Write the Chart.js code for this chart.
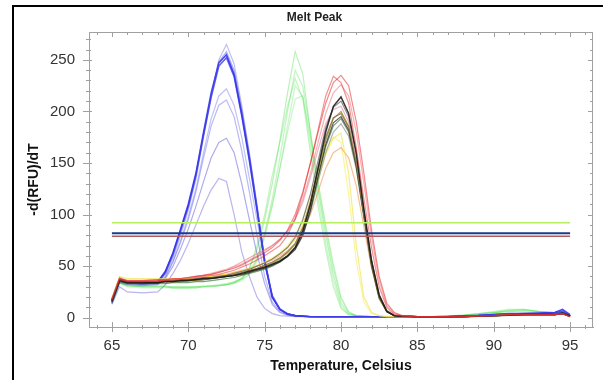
<!DOCTYPE html>
<html>
<head>
    <title>Melt Peak</title>
    <script src="https://cdn.jsdelivr.net/npm/chart.js"></script>
    <style>
        body {
            margin: 0;
            background-color: #ffffff;
            overflow: hidden;
        }
        #frame {
            position: absolute;
            left: 12px;
            top: 5px;
            width: 620px;
            height: 400px;
            border-left: 2px solid #000;
            border-top: 2px solid #000;
        }
        #wrap {
            position: absolute;
            left: 0;
            top: 0;
            width: 603px;
            height: 380px;
        }
    </style>
</head>
<body>
    <div id="frame"></div>
    <div id="wrap"><canvas id="meltChart"></canvas></div>

    <script>
        // temperature steps (Celsius) shared by every well
        const temps = [65, 65.5, 66, 67, 68, 68.5, 69, 69.5, 70, 70.5, 71, 71.5, 72, 72.5, 73, 73.5, 74, 74.5,
            75, 75.5, 76, 76.5, 77, 77.5, 78, 78.5, 79, 79.5, 80, 80.5, 81, 81.5, 82, 82.5, 83, 83.5,
            84, 85, 86, 87, 88, 89, 90, 91, 92, 93, 94, 94.5, 95];

        // -d(RFU)/dT per well, blue channel (peak ~72.5)
        const blueWells = [
            [15,36,34,33,34,42,58,80,104,134,175,215,250,265,246,206,160,110,58,22,9,4,2, 1.5,1.2,1,1,1,1,1,1,1,1,1,1,1,1, 1,1,1,1.5,2,3,4,4,4,5,7,2],
            [17,37,34,33,34,43,60,83,107,138,178,216,248,258,240,202,158,108,56,21,8,4,2, 1.5,1.2,1,1,1,1,1,1,1,1,1,1,1,1, 1,1,1.5,2,2.5,3,4,4,4,5,6,2],
            [18,38,35,34,35,45,63,86,110,140,180,218,247,255,236,198,155,106,55,20,8,3.5,2, 1.5,1,1,1,1,1,1,1,1,1,1,1,1,1, 1,1,1,1.5,2,3,3.5,4,4.5,5,8,3],
            [16,36,34,33,34,44,62,85,108,138,177,214,244,252,234,196,152,104,54,20,8,3.5,2, 1.5,1,1,1,1,1,1,1,1,1,1,1,1,1, 1,1,1,1.5,2,3,4,4,4,5,6,2],
            [14,35,33,32,33,40,55,75,98,125,160,193,215,222,206,175,135,95,52,22,9,4,2, 1.5,1.2,1,1,1,1,1,1,1,1,1,1,1,1, 1,1,1,1.5,2,3,3,3.5,4,4,5,2],
            [15,35,33,32,33,39,54,73,95,122,155,186,206,211,195,162,122,80,40,15,6,3,2, 1.5,1,1,1,1,1,1,1,1,1,1,1,1,1, 1,1,1,1.5,2,2.5,3,3.5,3.5,4,5,2],
            [14,34,32,31,32,38,50,67,86,108,132,155,170,174,160,130,95,62,33,13,5,2.5,1.5, 1.2,1,1,1,1,1,1,1,1,1,1,1,1,1, 1,1,1,1.5,2,2.5,3,3,3,4,5,2],
            [13,30,25,24,25,32,43,56,72,90,108,124,135,132,100,64,40,20,9,4,2,1.5,1, 1,1,1,1,1,1,1,1,1,1,1,1,1,1, 1,1,1,1,1.5,2,2.5,3,3,3,4,1.5]
        ];

        // green channel (peak ~77)
        const greenWells = [
            [14,34,31,30,30,30,29,29,29,29,30,30,31,32,34,38,48,66,95,130,172,218,258,236,180,124,80,42,14,4,2,1.5, 1,1,1,1,1, 1,1,1.5,2.5,4,6,8,8,6,5,5,2],
            [15,35,32,31,31,31,30,30,30,30,31,31,32,33,35,38,44,58,82,115,155,200,240,224,180,132,90,52,20,6,2,1.5, 1,1,1,1,1, 1,1,1.5,2.5,4,5,7,7,6,5,5,2],
            [14,34,31,30,30,30,30,30,30,30,30,31,31,32,34,38,48,70,100,138,170,205,232,212,160,108,66,30,9,3,2,1.5, 1,1,1,1,1, 1,1,1.5,2,3.5,5,7,8,6,5,4,2],
            [13,33,30,29,29,29,29,29,29,29,30,30,31,32,33,36,42,55,78,108,145,186,225,214,175,128,86,48,18,5,2,1.5, 1,1,1,1,1, 1,1,1.5,2,3,5,6,7,6,5,4,2],
            [14,34,31,30,30,30,29,29,29,30,30,31,31,32,34,37,42,56,80,110,145,180,212,215,168,116,72,36,11,3,2,1.5, 1,1,1,1,1, 1,1,1.5,2,3,5,6,6,5,4,4,2]
        ];

        // red / mixed channel (peak ~80)
        const redWells = [
            [18,38,36,36,37,37,38,38,39,40,41,42,44,46,48,51,55,59,63,68,75,85,100,122,150,180,208,228,235,225,190,140,85,40,14,5,2, 1,1,1,1,1.5,2,3,3,3,3,4,1],
            [17,37,35,35,36,36,37,37,38,39,40,41,42,44,46,49,52,56,60,65,70,80,96,120,150,182,215,234,228,208,165,115,68,30,10,3,1.5, 1,1,1,1,1.5,2,2.5,3,3,3,4,1],
            [18,39,36,36,36,37,37,38,39,40,41,43,45,47,50,54,58,62,66,70,76,84,96,115,140,170,198,218,226,215,180,130,78,36,12,4,2, 1,1,1,1,1.5,2,3,3,3,3,4,1],
            [16,36,34,34,34,35,35,36,36,37,38,38,39,40,41,43,45,47,49,52,55,60,68,84,110,145,180,205,214,198,160,105,55,22,6,2,1.5, 1,1,1,1,1.5,2,2.5,3,3,3,4,1.5],
            [17,37,35,35,35,36,36,37,37,38,39,39,40,41,43,45,47,50,53,57,62,68,78,95,120,152,184,204,210,195,158,104,56,22,7,2,1.5, 1,1,1,1,1.5,2,2.5,3,3,3,4,1.5],
            [18,38,36,36,37,37,38,38,39,40,41,42,44,46,49,52,56,60,65,70,76,84,95,112,136,163,188,202,205,190,152,102,55,22,7,2,1.5, 1,1,1,1,1.5,2,2.5,3,3,3,4,1],
            [16,36,34,34,34,35,35,35,36,36,37,38,39,40,41,43,45,47,50,53,57,63,71,86,110,142,172,193,200,186,150,100,52,20,6,2,1.5, 1,1,1,1,1.5,2,2.5,3,3,3,4,1.5],
            [17,37,35,34,34,35,35,36,36,37,37,38,39,40,41,42,44,46,48,51,54,59,66,80,104,137,168,189,195,182,148,100,52,20,6,2,1.5, 1,1,1,1,1.5,2,2.5,3,3,3,5,2],
            [15,35,33,33,33,33,34,34,34,35,35,36,37,38,39,41,43,45,47,50,54,60,68,82,105,136,166,186,193,180,146,98,50,19,6,2,1.5, 1,1,1,1,1.5,2,2.5,3,3,3,4,1.5],
            [16,36,34,34,34,35,35,35,36,36,37,38,39,40,41,42,44,46,48,51,55,60,67,80,102,132,160,180,188,176,144,96,50,19,6,2,1.5, 1,1,1,1,1.5,2,2.5,3,3,3,4,1.5],
            [19,40,38,38,38,38,38,38,38,39,39,40,41,42,43,45,47,50,53,57,62,68,76,90,110,135,158,174,179,140,70,20,5,2,1,1,1, 1,1,1,1,1.5,2,2.5,3,3,3,4,1],
            [17,37,35,35,35,36,36,37,37,38,39,40,41,42,44,46,48,50,53,56,60,65,72,84,100,122,145,160,165,155,128,88,48,18,6,2,1.5, 1,1,1,1,1.5,2,2.5,3,3,3,4,1.5],
            [17,37,35,35,35,36,36,36,37,37,38,39,40,41,42,44,46,48,51,54,58,64,72,88,113,145,175,194,198,185,150,100,52,20,6,2,1.5, 1,1,1,1,1.5,2,2.5,3,3,3,4,1.5],
            [18,39,37,37,37,37,37,38,38,38,39,40,41,42,44,46,48,51,54,58,63,70,80,96,118,142,162,175,170,120,55,15,4,2,1,1,1, 1,1,1,1,1.5,2,2.5,3,3,3,4,1]
        ];

        // threshold lines
        const thresholdSpan = [65, 95];
        const thresholds = [92, 82, 79];

        // styles
        const blueColors = ['rgba(70,70,230,0.35)', 'rgba(70,70,230,0.45)', 'rgba(45,45,235,0.85)', 'rgba(45,45,235,0.75)',
            'rgba(80,80,230,0.35)', 'rgba(80,80,230,0.4)', 'rgba(80,70,210,0.45)', 'rgba(80,70,210,0.4)'];
        const greenColors = ['rgba(80,225,80,0.4)', 'rgba(80,225,80,0.35)', 'rgba(80,225,80,0.35)', 'rgba(80,225,80,0.3)', 'rgba(80,225,80,0.3)'];
        const redColors = ['rgba(230,40,40,0.55)', 'rgba(230,40,40,0.5)', 'rgba(240,100,110,0.5)', 'rgba(20,20,20,0.85)',
            'rgba(90,90,90,0.7)', 'rgba(220,120,140,0.55)', 'rgba(130,130,20,0.7)', 'rgba(40,40,40,0.75)',
            'rgba(30,100,30,0.6)', 'rgba(130,130,130,0.6)', 'rgba(240,228,70,0.65)', 'rgba(240,150,80,0.6)',
            'rgba(140,70,30,0.7)', 'rgba(250,240,120,0.7)'];
        const thresholdColors = ['#b6ef5e', '#1b3a8c', '#b35a5a'];
        const thresholdWidths = [1.5, 2, 1.5];

        const fontFamily = 'Arial, "Liberation Sans", sans-serif';

        function toPoints(values) {
            return temps.map((t, i) => ({x: t, y: values[i]}));
        }

        let datasets = [];
        thresholds.forEach((v, i) => {
            datasets.push({
                data: thresholdSpan.map(t => ({x: t, y: v})),
                borderColor: thresholdColors[i],
                borderWidth: thresholdWidths[i]
            });
        });
        redWells.forEach((w, i) => {
            datasets.push({data: toPoints(w), borderColor: redColors[i], borderWidth: i === 3 ? 1.5 : 1.2});
        });
        blueWells.forEach((w, i) => {
            datasets.push({data: toPoints(w), borderColor: blueColors[i], borderWidth: i === 2 || i === 3 ? 1.6 : 1.2});
        });
        greenWells.forEach((w, i) => {
            datasets.push({data: toPoints(w), borderColor: greenColors[i], borderWidth: 1.2});
        });

        // minor / inner tick marks on all four sides
        const axisTicks = {
            id: 'axisTicks',
            afterDatasetsDraw(chart) {
                const {ctx, chartArea: a, scales} = chart;
                const x = scales.x, y = scales.y;
                ctx.save();
                ctx.strokeStyle = '#a0a0a0';
                ctx.lineWidth = 1;
                ctx.beginPath();
                ctx.moveTo(a.left, a.top + 0.5);
                ctx.lineTo(a.right, a.top + 0.5);
                ctx.moveTo(a.right - 0.5, a.top);
                ctx.lineTo(a.right - 0.5, a.bottom);
                for (let t = Math.ceil(x.min); t <= x.max; t += 1) {
                    const px = Math.round(x.getPixelForValue(t)) + 0.5;
                    const major = t % 5 === 0;
                    ctx.moveTo(px, a.bottom - (major ? 5 : 2));
                    ctx.lineTo(px, a.bottom + (major ? 5 : 2));
                    ctx.moveTo(px, a.top);
                    ctx.lineTo(px, a.top + (major ? 5 : 3));
                }
                for (let v = Math.ceil(y.min / 10) * 10; v <= y.max; v += 10) {
                    const py = Math.round(y.getPixelForValue(v)) + 0.5;
                    const major = v % 50 === 0;
                    ctx.moveTo(a.left - (major ? 6 : 3), py);
                    ctx.lineTo(a.left + (major ? 3 : 2), py);
                    ctx.moveTo(a.right, py);
                    ctx.lineTo(a.right - (major ? 5 : 3), py);
                }
                ctx.stroke();
                ctx.restore();
            }
        };

        new Chart(document.getElementById('meltChart'), {
            type: 'line',
            data: {datasets: datasets},
            options: {
                responsive: true,
                maintainAspectRatio: false,
                animation: false,
                layout: {padding: {left: 26, right: 0, top: 0, bottom: 0}},
                elements: {
                    point: {radius: 0},
                    line: {tension: 0, fill: false}
                },
                plugins: {
                    legend: {display: false},
                    tooltip: {enabled: false},
                    title: {
                        display: true,
                        text: 'Melt Peak',
                        color: '#222',
                        font: {family: fontFamily, size: 12, weight: 'bold'},
                        padding: {top: 10, bottom: 7.6}
                    }
                },
                scales: {
                    x: {
                        type: 'linear',
                        min: 63.5,
                        max: 96.5,
                        border: {display: true, color: '#a0a0a0', width: 1},
                        grid: {drawOnChartArea: false, drawTicks: true, tickLength: 5, tickColor: 'rgba(0,0,0,0)'},
                        ticks: {stepSize: 5, includeBounds: false, padding: 5, color: '#333', font: {family: fontFamily, size: 15}},
                        title: {display: true, text: 'Temperature, Celsius', color: '#111',
                            font: {family: fontFamily, size: 14, weight: 'bold'}, padding: {top: 0, bottom: 5}},
                        afterFit(s) { s.height = 53; }
                    },
                    y: {
                        min: -9,
                        max: 277,
                        border: {display: true, color: '#a0a0a0', width: 1},
                        grid: {drawOnChartArea: false, drawTicks: true, tickLength: 5, tickColor: 'rgba(0,0,0,0)'},
                        ticks: {stepSize: 50, includeBounds: false, padding: 9, color: '#333', font: {family: fontFamily, size: 15}},
                        title: {display: true, text: '-d(RFU)/dT', color: '#111',
                            font: {family: fontFamily, size: 14, weight: 'bold'}, padding: 0},
                        afterFit(s) { s.width = 63; }
                    },
                    yRight: {
                        position: 'right',
                        min: -9,
                        max: 277,
                        grid: {display: false},
                        border: {display: false},
                        ticks: {display: false},
                        afterFit(s) { s.width = 10; }
                    }
                }
            },
            plugins: [axisTicks]
        });
    </script>
</body>
</html>
